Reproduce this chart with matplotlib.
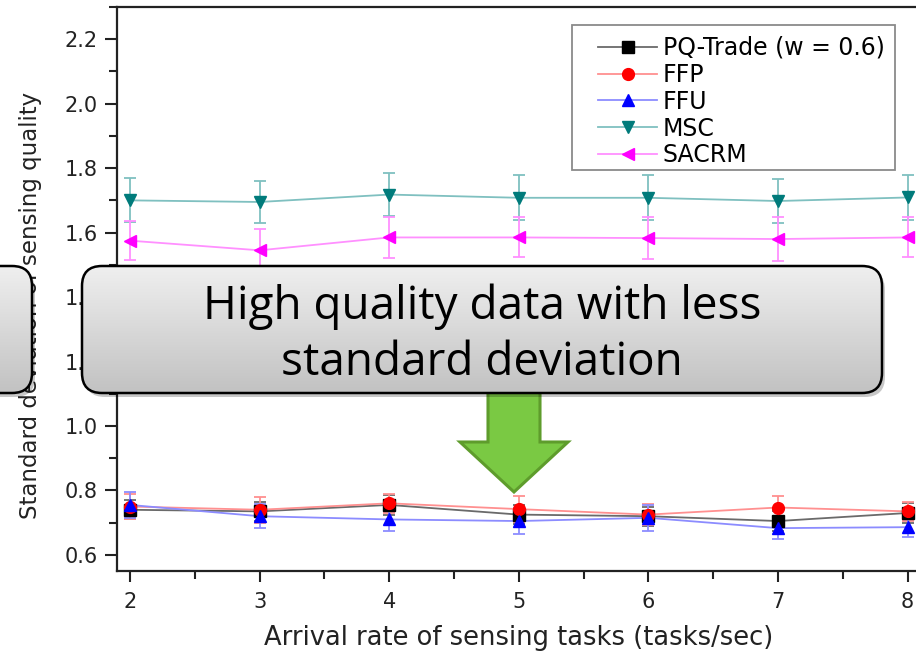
import matplotlib
matplotlib.use('Agg')
import matplotlib.pyplot as plt
import numpy as np
from matplotlib.patches import FancyBboxPatch, Polygon, Rectangle
from matplotlib.lines import Line2D
from matplotlib.colors import LinearSegmentedColormap

# Arrival rate of sensing tasks (tasks/sec)
rates = [2, 3, 4, 5, 6, 7, 8]
yticks = [0.6, 0.8, 1.0, 1.2, 1.4, 1.6, 1.8, 2.0, 2.2]

# Standard deviation of sensing quality per scheme
pq_trade = [0.740, 0.735, 0.755, 0.725, 0.720, 0.705, 0.730]
ffp = [0.750, 0.740, 0.760, 0.742, 0.725, 0.747, 0.735]
ffu = [0.755, 0.720, 0.710, 0.705, 0.715, 0.683, 0.686]
msc = [1.700, 1.695, 1.718, 1.708, 1.708, 1.698, 1.709]
sacrm = [1.575, 1.545, 1.585, 1.585, 1.583, 1.580, 1.585]

# Error bar half-widths
pq_err = [0.030, 0.030, 0.030, 0.030, 0.030, 0.030, 0.030]
ffp_err = [0.040, 0.040, 0.030, 0.040, 0.032, 0.035, 0.030]
ffu_err = [0.040, 0.037, 0.037, 0.040, 0.040, 0.035, 0.030]
msc_err = [0.068, 0.065, 0.067, 0.070, 0.070, 0.068, 0.070]
sacrm_err = [0.060, 0.065, 0.064, 0.062, 0.064, 0.069, 0.062]

labels = ['PQ-Trade (w = 0.6)', 'FFP', 'FFU', 'MSC', 'SACRM']
series = [pq_trade, ffp, ffu, msc, sacrm]
errors = [pq_err, ffp_err, ffu_err, msc_err, sacrm_err]
markers = ['s', 'o', '^', 'v', '<']
colors = ['#000000', '#ff0000', '#0000ff', '#007b7b', '#ff00ff']
pale = ['#6a6a6a', '#ff9090', '#8c8cff', '#7fc0c0', '#ff90ff']

plt.rcParams['font.family'] = 'DejaVu Sans'

W, H = 916, 653
fig = plt.figure(figsize=(W / 100, H / 100), dpi=100)
ax = fig.add_axes([117 / W, 82 / H, 803.6 / W, 564 / H])

for y, e, m, c, p in zip(series, errors, markers, colors, pale):
    ax.errorbar(rates, y, yerr=e, fmt='none', ecolor=p, elinewidth=1.3,
                capsize=4.5, capthick=1.3, zorder=2)
    ax.plot(rates, y, color=p, lw=1.3, zorder=3)
    ax.plot(rates, y, ls='none', marker=m, ms=8.5, color=c, mec=c, zorder=4)

ax.set_xlim(1.9, 8.1)
ax.set_ylim(0.55, 2.3)
ax.set_xticks(rates)
ax.set_xticklabels([str(r) for r in rates], fontsize=15, color='#222222')
ax.set_xticks(np.arange(2.5, 8, 1.0), minor=True)
ax.set_yticks(yticks)
ax.set_yticklabels(['%.1f' % v for v in yticks], fontsize=15, color='#222222')
ax.set_yticks(np.arange(0.7, 2.31, 0.2), minor=True)

ax.tick_params(axis='y', which='major', direction='out', length=9, width=1.5,
               color='#222222', pad=5)
ax.tick_params(axis='x', which='major', direction='out', length=8, width=1.5,
               color='#222222', pad=7)
ax.tick_params(which='minor', direction='out', length=5.5, width=1.5,
               color='#222222')
for side in ['left', 'bottom', 'top']:
    ax.spines[side].set_linewidth(1.6)
    ax.spines[side].set_color('#222222')
ax.spines['right'].set_visible(False)

fig.text(519 / W, 1 - 638 / H, 'Arrival rate of sensing tasks (tasks/sec)',
         ha='center', va='center', fontsize=18.5, color='#222222')
fig.text(31 / W, 1 - 305 / H, 'Standard deviation of sensing quality',
         ha='center', va='center', rotation=90, fontsize=16.5, color='#222222')

handles = [Line2D([], [], color=p, lw=1.3, marker=m, ms=8.5, mfc=c, mec=c)
           for m, c, p in zip(markers, colors, pale)]
ax.legend(handles, labels, loc='upper left', frameon=False,
          bbox_to_anchor=((598 - 117) / 803.6, (571 - 36) / 564),
          borderpad=0, borderaxespad=0, fontsize=17, labelspacing=0.12,
          handlelength=2.5, handletextpad=0.25)

# overlay in pixel coordinates for the legend frame and the callout
ov = fig.add_axes([0, 0, 1, 1], zorder=10)
ov.set_xlim(0, W)
ov.set_ylim(H, 0)
ov.axis('off')
ov.patch.set_alpha(0)

ov.add_patch(Rectangle((572, 25), 323, 145, fill=False, ec='#8a8a8a', lw=1.3))

# green arrow pointing down at the low curves
arrow = [(488, 390), (540, 390), (540, 442), (568, 442), (514, 492),
         (460, 442), (488, 442)]
ov.add_patch(Polygon(arrow, closed=True, fc='#7ac943', ec='#5e9c2c',
                     lw=2.2, joinstyle='miter', zorder=1))

grad_cmap = LinearSegmentedColormap.from_list('grey_grad', ['#efefef', '#c2c2c2'])
grad = np.linspace(0, 1, 128).reshape(-1, 1)


def callout(x0, y0, w, h):
    style = 'round,pad=0,rounding_size=20'
    shadow = FancyBboxPatch((x0 + 3, y0 + 4), w, h, boxstyle=style,
                            fc='black', ec='none', alpha=0.22, zorder=2)
    ov.add_patch(shadow)
    box = FancyBboxPatch((x0, y0), w, h, boxstyle=style,
                         fc='none', ec='black', lw=1.8, zorder=4)
    ov.add_patch(box)
    im = ov.imshow(grad, cmap=grad_cmap, aspect='auto', origin='upper',
                   extent=(x0, x0 + w, y0 + h, y0), zorder=3)
    im.set_clip_path(box)


callout(-40, 266, 72, 127)
callout(82, 266, 800, 127)

ov.text(482, 319, 'High quality data with less', ha='center', va='baseline',
        fontsize=33, family='Open Sans', color='black', zorder=5)
ov.text(482, 375, 'standard deviation', ha='center', va='baseline',
        fontsize=33, family='Open Sans', color='black', zorder=5)

ov.set_xlim(0, W)
ov.set_ylim(H, 0)

fig.savefig('out.png', dpi=100)
